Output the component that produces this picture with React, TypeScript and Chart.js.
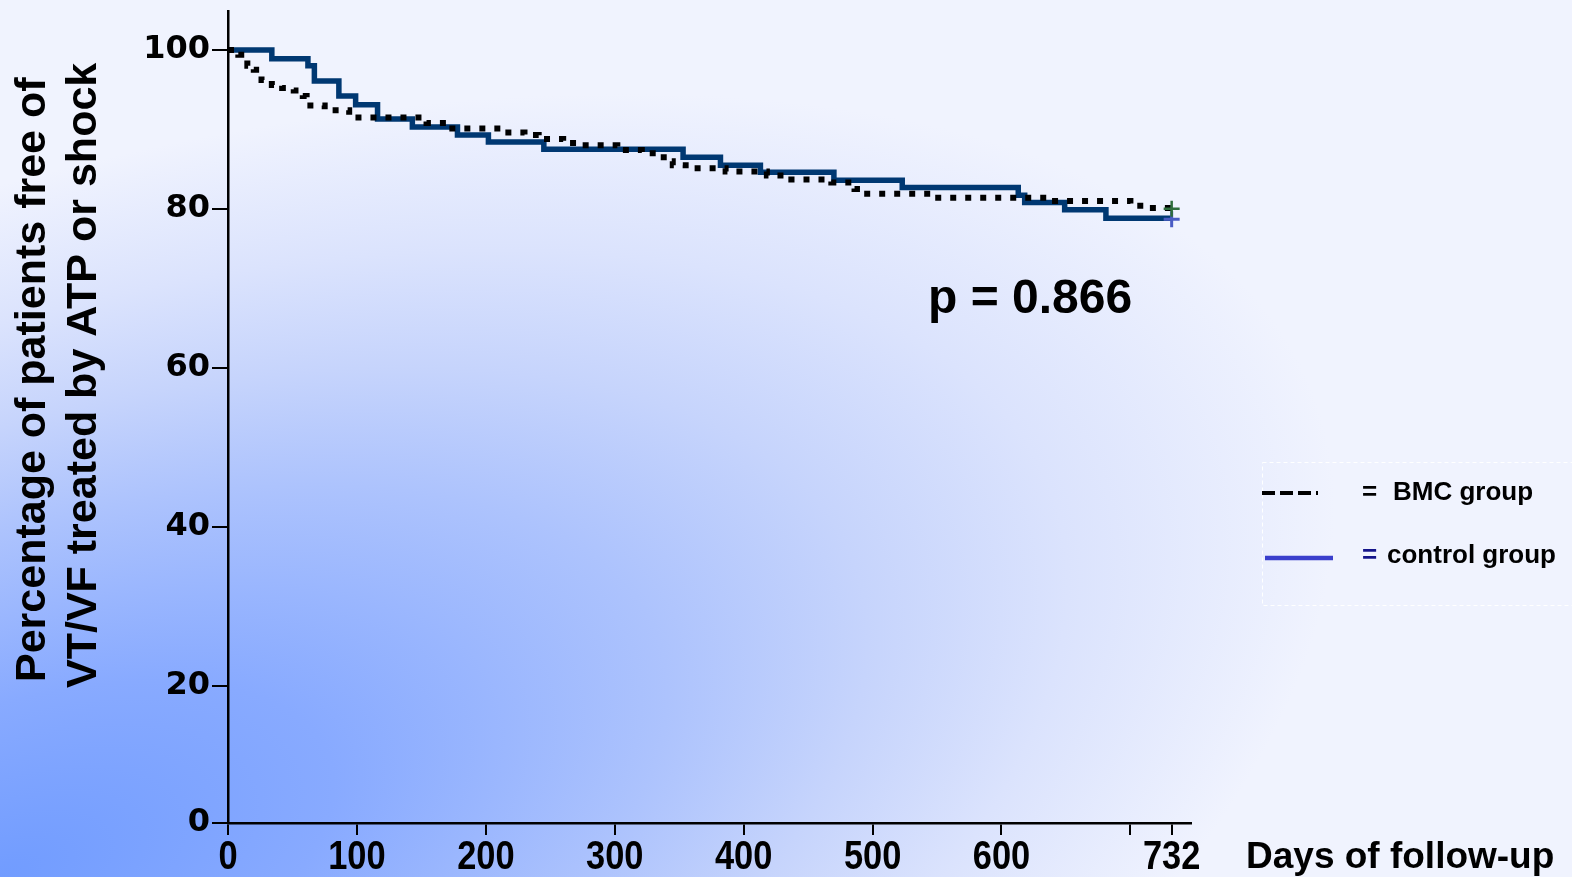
import React, { useEffect, useRef } from 'react';
import { Chart, registerables } from 'chart.js';

Chart.register(...registerables);

// ---- data ----
const bmcDays = [0, 8, 15, 20, 26, 34, 42, 51, 58, 61, 75, 94, 154, 170, 215, 230, 241, 260, 271, 302, 321, 338, 345, 355, 386, 418, 437, 468, 486, 493, 547, 636, 700, 710, 732];
const bmcValues = [100, 99.4, 98.0, 97.5, 96.2, 95.6, 95.2, 94.9, 94.2, 93.0, 92.4, 91.5, 90.8, 90.1, 89.6, 89.3, 88.8, 88.3, 88.0, 87.4, 87.0, 86.0, 85.5, 85.1, 84.7, 84.2, 83.7, 83.3, 82.5, 81.9, 81.4, 81.0, 80.4, 80.1, 80.1];

const controlDays = [0, 34, 62, 67, 86, 99, 116, 143, 178, 202, 245, 353, 382, 413, 470, 523, 613, 618, 649, 681, 732];
const controlValues = [100, 98.9, 98.0, 96.1, 94.2, 93.1, 91.3, 90.3, 89.3, 88.4, 87.5, 86.5, 85.5, 84.6, 83.6, 82.7, 81.7, 80.8, 79.9, 78.8, 78.8];

const bmcCensorDay = [732];
const bmcCensorValue = [80.0];
const controlCensorDay = [732];
const controlCensorValue = [78.7];

const xTickValues = [0, 100, 200, 300, 400, 500, 600, 700, 732];
const xTickLabels = ['0', '100', '200', '300', '400', '500', '600', '', '732'];
const yTickValues = [0, 20, 40, 60, 80, 100];
const yTickLabels = ['0', '20', '40', '60', '80', '100'];

const yTitleLines = ['Percentage of patients free of', 'VT/VF treated by ATP or shock'];
const xTitle = 'Days of follow-up';
const pValueText = 'p = 0.866';
const legendBmc = 'BMC group';
const legendControl = 'control group';

// axis extent (the reference's y axis is broken: the "0" tick sits at the axis bottom)
const X_MAX = 747;
const Y_MIN = 2.7;
const Y_MAX = 104.9;

const toPoints = (xs: number[], ys: number[]) => xs.map((x, i) => ({ x, y: ys[i] }));

const bgPlugin = {
  id: 'bgGradient',
  beforeDraw(chart: any) {
    const { ctx, width, height } = chart;
    ctx.save();
    ctx.fillStyle = '#f2f5ff';
    ctx.fillRect(0, 0, width, height);
    ctx.translate(0, height);
    ctx.rotate((-20 * Math.PI) / 180);
    ctx.scale(1400 / 660, 1);
    const g = ctx.createRadialGradient(0, 0, 0, 0, 0, 660);
    g.addColorStop(0, '#719cff');
    g.addColorStop(0.25, '#88aaff');
    g.addColorStop(0.5, '#adc3fd');
    g.addColorStop(0.65, '#c6d4fc');
    g.addColorStop(0.8, '#dbe3fd');
    g.addColorStop(1, '#f0f3fe');
    ctx.fillStyle = g;
    ctx.fillRect(-3000, -3000, 6000, 6000);
    ctx.restore();
  },
};

const textPlugin = {
  id: 'texts',
  afterDraw(chart: any) {
    const { ctx } = chart;
    ctx.save();
    ctx.fillStyle = '#000';

    // x tick labels (condensed bold, placed by the x scale)
    const xs = chart.scales.x;
    ctx.font = 'bold 40px "Liberation Sans", Arial, sans-serif';
    ctx.textAlign = 'center';
    ctx.textBaseline = 'alphabetic';
    xTickValues.forEach((v, i) => {
      const label = xTickLabels[i];
      if (!label) return;
      const px = xs.getPixelForValue(v);
      ctx.save();
      ctx.translate(px, 869);
      ctx.scale(0.86, 1);
      ctx.fillText(label, 0, 0);
      ctx.restore();
    });

    // y axis title (two rotated lines)
    ctx.font = 'bold 43px "Liberation Sans", Arial, sans-serif';
    ctx.textAlign = 'left';
    ctx.textBaseline = 'middle';
    const lineX = [33, 84];
    const lineStart = [682, 688];
    yTitleLines.forEach((t, i) => {
      ctx.save();
      ctx.translate(lineX[i], lineStart[i]);
      ctx.rotate(-Math.PI / 2);
      ctx.fillText(t, 0, 0);
      ctx.restore();
    });
    // p value
    ctx.textBaseline = 'alphabetic';
    ctx.font = 'bold 48px "Liberation Sans", Arial, sans-serif';
    ctx.fillText(pValueText, 928, 313);
    // x title
    ctx.font = 'bold 37px "Liberation Sans", Arial, sans-serif';
    ctx.fillText(xTitle, 1246, 868);

    // legend box
    ctx.save();
    ctx.strokeStyle = 'rgba(255,255,255,0.95)';
    ctx.lineWidth = 1;
    ctx.setLineDash([4, 3]);
    ctx.strokeRect(1262.5, 462.5, 400, 143);
    ctx.restore();

    // legend BMC
    ctx.save();
    ctx.strokeStyle = '#000';
    ctx.lineWidth = 4;
    ctx.setLineDash([13, 5]);
    ctx.beginPath();
    ctx.moveTo(1262, 493);
    ctx.lineTo(1318, 493);
    ctx.stroke();
    ctx.restore();
    ctx.font = 'bold 26px "Liberation Sans", Arial, sans-serif';
    ctx.fillStyle = '#000';
    ctx.fillText('=', 1362, 500);
    ctx.fillText(legendBmc, 1393, 500);

    // legend control
    ctx.save();
    ctx.strokeStyle = '#3a3fcc';
    ctx.lineWidth = 4.5;
    ctx.beginPath();
    ctx.moveTo(1265, 558);
    ctx.lineTo(1333, 558);
    ctx.stroke();
    ctx.restore();
    ctx.fillStyle = '#14148a';
    ctx.fillText('=', 1362, 563);
    ctx.fillStyle = '#000';
    ctx.fillText(legendControl, 1387, 563);
    ctx.restore();
  },
};

export default function App() {
  const canvasRef = useRef<HTMLCanvasElement | null>(null);

  useEffect(() => {
    const canvas = canvasRef.current;
    if (!canvas) return;
    const chart = new Chart(canvas, {
      type: 'line',
      data: {
        datasets: [
          {
            label: 'BMC group',
            data: toPoints(bmcDays, bmcValues),
            borderColor: '#000',
            borderWidth: 6,
            borderDash: [6, 9],
            borderCapStyle: 'butt',
            stepped: 'before',
            pointRadius: 0,
            fill: false,
            order: 1,
          },
          {
            label: 'control group',
            data: toPoints(controlDays, controlValues),
            borderColor: '#003872',
            borderWidth: 5.5,
            stepped: 'before',
            pointRadius: 0,
            fill: false,
            order: 2,
          },
          {
            label: 'BMC censored',
            type: 'scatter',
            data: toPoints(bmcCensorDay, bmcCensorValue),
            pointStyle: 'cross',
            pointRadius: 8,
            borderColor: '#2f6d3c',
            borderWidth: 2.5,
            showLine: false,
            order: 0,
          },
          {
            label: 'control censored',
            type: 'scatter',
            data: toPoints(controlCensorDay, controlCensorValue),
            pointStyle: 'cross',
            pointRadius: 8,
            borderColor: '#4a5cc4',
            borderWidth: 3,
            showLine: false,
            order: 0,
          },
        ] as any,
      },
      options: {
        animation: false,
        responsive: false,
        maintainAspectRatio: false,
        layout: { padding: { left: 0, top: 8, right: 381, bottom: 0 } },
        plugins: { legend: { display: false }, tooltip: { enabled: false } },
        scales: {
          x: {
            type: 'linear',
            min: 0,
            max: X_MAX,
            afterBuildTicks: (s: any) => {
              s.ticks = xTickValues.map((v) => ({ value: v }));
            },
            afterFit: (s: any) => {
              s.height = 54;
              s.paddingLeft = 0;
              s.paddingRight = 0;
            },
            ticks: {
              display: false,
              autoSkip: false,
              maxRotation: 0,
              minRotation: 0,
            },
            grid: { drawOnChartArea: false, drawTicks: true, tickLength: 12, color: '#000', lineWidth: 2 },
            border: { display: true, color: '#000', width: 2.5 },
          },
          y: {
            type: 'linear',
            min: Y_MIN,
            max: Y_MAX,
            afterBuildTicks: (s: any) => {
              s.ticks = yTickValues.map((v) => ({ value: v === 0 ? Y_MIN : v }));
            },
            afterFit: (s: any) => {
              s.width = 228;
              s.paddingTop = 0;
              s.paddingBottom = 0;
            },
            ticks: {
              autoSkip: false,
              color: '#000',
              padding: 2,
              font: { family: '"DejaVu Sans", sans-serif', size: 32, weight: 'bold' },
              callback: (v: any, idx: number) => yTickLabels[idx] ?? '',
            },
            grid: { drawOnChartArea: false, drawTicks: true, tickLength: 16, color: '#000', lineWidth: 2 },
            border: { display: true, color: '#000', width: 2.5 },
          },
        },
      } as any,
      plugins: [bgPlugin, textPlugin],
    });
    return () => chart.destroy();
  }, []);

  return (
    <div style={{ position: 'fixed', left: 0, top: 0, width: 1572, height: 877, overflow: 'hidden' }}>
      <canvas ref={canvasRef} width={1572} height={877} style={{ display: 'block', width: 1572, height: 877 }} />
    </div>
  );
}
